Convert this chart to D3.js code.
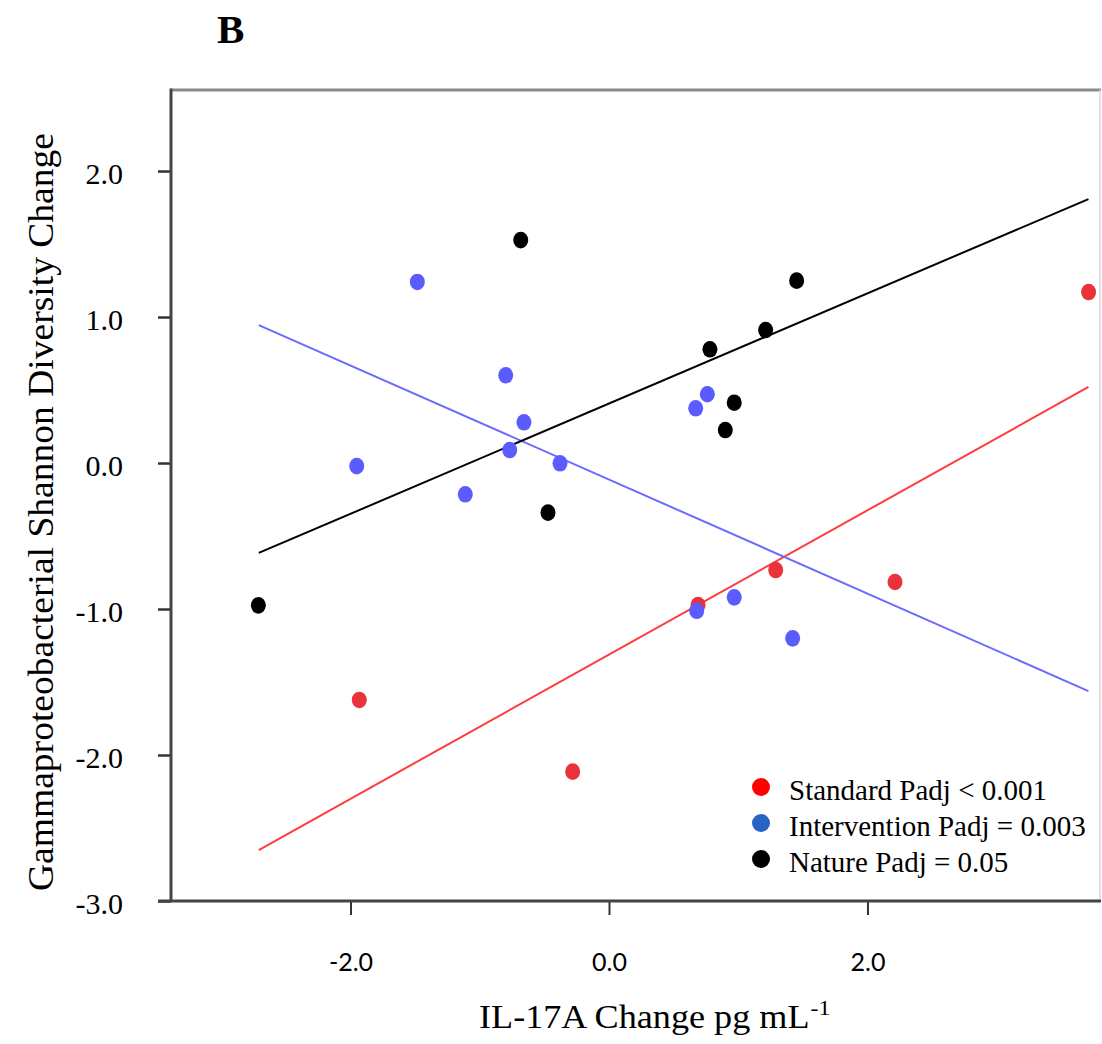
<!DOCTYPE html>
<html>
<head>
<meta charset="utf-8">
<script src="https://cdn.jsdelivr.net/npm/d3@7"></script>
<style>
  html, body { margin: 0; padding: 0; background: #fff; }
  svg { display: block; }
</style>
</head>
<body>
<script>
// ---- data ----
const standardX = [-1.932, -0.281, 0.689, 1.290, 2.213, 3.711];
const standardY = [-1.623, -2.114, -0.973, -0.733, -0.815, 1.171];

const interventionX = [-1.483, -0.799, -0.658, -0.768, -1.952, -1.112, -0.379, 0.761, 0.671, 0.679, 0.969, 1.421];
const interventionY = [1.240, 0.601, 0.279, 0.089, -0.021, -0.214, -0.002, 0.471, 0.375, -1.012, -0.920, -1.201];

const natureX = [-2.713, -0.683, -0.472, 0.781, 0.900, 0.969, 1.212, 1.452];
const natureY = [-0.975, 1.527, -0.340, 0.779, 0.226, 0.413, 0.911, 1.249];

// fitted lines: y at fitX[0] and fitX[1]
const fitX = [-2.71, 3.71];
const standardFit = [-2.651, 0.521];
const interventionFit = [0.945, -1.562];
const natureFit = [-0.616, 1.808];

const seriesNames = ["Standard", "Intervention", "Nature"];
const legendLabels = ["Standard Padj < 0.001", "Intervention Padj = 0.003", "Nature Padj = 0.05"];

const xTickValues = [-2, 0, 2];
const xTickLabels = ["-2.0", "0.0", "2.0"];
const yTickValues = [2, 1, 0, -1, -2, -3];
const yTickLabels = ["2.0", "1.0", "0.0", "-1.0", "-2.0", "-3.0"];

const panelLabel = "B";
const xTitle = "IL-17A Change pg mL";
const xTitleSup = "-1";
const yTitle = "Gammaproteobacterial Shannon Diversity Change";

// ---- styles ----
const dotColors = { Standard: "#e8333b", Intervention: "#5b5cff", Nature: "#000000" };
const lineColors = { Standard: "#ff3c3c", Intervention: "#6b6bff", Nature: "#000000" };
const legendColors = { Standard: "#ff0000", Intervention: "#2a63c6", Nature: "#000000" };
const serif = "'Liberation Serif', 'Times New Roman', serif";
const sans = "Lato, 'Open Sans', sans-serif";

const W = 1102, H = 1044;
const pLeft = 171, pRight = 1101, pTop = 90, pBottom = 901;

const svg = d3.select("body").append("svg").attr("width", W).attr("height", H);

const x = d3.scaleLinear().domain([-3.389, 3.807]).range([pLeft, pRight]);
const y = d3.scaleLinear().domain([-3, 2.555]).range([pBottom, pTop]);

const series = [
  { name: "Standard", xs: standardX, ys: standardY, fit: standardFit },
  { name: "Intervention", xs: interventionX, ys: interventionY, fit: interventionFit },
  { name: "Nature", xs: natureX, ys: natureY, fit: natureFit }
];

// frame
svg.append("line").attr("x1", pLeft).attr("x2", pRight).attr("y1", pTop).attr("y2", pTop)
  .attr("stroke", "#8a8a8a").attr("stroke-width", 3);
svg.append("line").attr("x1", pRight - 1).attr("x2", pRight - 1).attr("y1", pTop).attr("y2", pBottom)
  .attr("stroke", "#d8d8d8").attr("stroke-width", 1.5);

// y axis
const yAxis = d3.axisLeft(y).tickValues(yTickValues)
  .tickFormat((d, i) => yTickLabels[i]).tickSize(13).tickPadding(35);
const gy = svg.append("g").attr("transform", `translate(${pLeft},0)`).call(yAxis);
gy.select(".domain").remove();
gy.selectAll(".tick line").attr("stroke", "#333").attr("stroke-width", 2.5);
gy.selectAll(".tick text").attr("font-family", serif).attr("font-size", 30).attr("fill", "#000")
  .attr("dy", "0.4em");

// x axis
const xAxis = d3.axisBottom(x).tickValues(xTickValues)
  .tickFormat((d, i) => xTickLabels[i]).tickSize(14).tickPadding(38);
const gx = svg.append("g").attr("transform", `translate(0,${pBottom})`).call(xAxis);
gx.select(".domain").remove();
gx.selectAll(".tick line").attr("stroke", "#333").attr("stroke-width", 2);
gx.selectAll(".tick text").attr("font-family", sans).attr("font-size", 25).attr("fill", "#000");

// axis lines
svg.append("line").attr("x1", pLeft).attr("x2", pLeft).attr("y1", pTop - 1.5).attr("y2", pBottom)
  .attr("stroke", "#444").attr("stroke-width", 3);
svg.append("line").attr("x1", pLeft - 13).attr("x2", pRight).attr("y1", pBottom).attr("y2", pBottom)
  .attr("stroke", "#444").attr("stroke-width", 3);

// fit lines
const line = d3.line().x(d => x(d[0])).y(d => y(d[1]));
series.forEach(s => {
  svg.append("path")
    .attr("d", line(fitX.map((v, i) => [v, s.fit[i]])))
    .attr("fill", "none").attr("stroke", lineColors[s.name]).attr("stroke-width", 2);
});

// points
series.forEach(s => {
  svg.append("g").selectAll("ellipse").data(s.xs.map((v, i) => [v, s.ys[i]]))
    .join("ellipse")
    .attr("cx", d => x(d[0])).attr("cy", d => y(d[1]))
    .attr("rx", 7.5).attr("ry", 8.3)
    .attr("fill", dotColors[s.name]);
});

// legend
const lg = svg.append("g");
seriesNames.forEach((n, i) => {
  const by = 800 + i * 36;
  lg.append("circle").attr("cx", 761).attr("cy", by - 13).attr("r", 9).attr("fill", legendColors[n]);
  lg.append("text").attr("x", 789).attr("y", by).attr("font-family", serif).attr("font-size", 29)
    .attr("fill", "#000").text(legendLabels[i]);
});

// panel label
svg.append("text").attr("x", 217).attr("y", 43).attr("font-family", serif).attr("font-weight", "bold")
  .attr("font-size", 41).attr("fill", "#000").text(panelLabel);

// x title
const xt = svg.append("text").attr("transform", "translate(479,1028) scale(1.08,1)")
  .attr("font-family", serif).attr("font-size", 33.5).attr("fill", "#000");
xt.append("tspan").text(xTitle);
xt.append("tspan").attr("font-size", 22).attr("dy", -13).attr("dx", 1).text(xTitleSup);

// y title
svg.append("text").attr("transform", "translate(53,512) rotate(-90)")
  .attr("text-anchor", "middle").attr("font-family", serif).attr("font-size", 36)
  .attr("textLength", 758).attr("lengthAdjust", "spacingAndGlyphs")
  .attr("fill", "#000").text(yTitle);
</script>
</body>
</html>
